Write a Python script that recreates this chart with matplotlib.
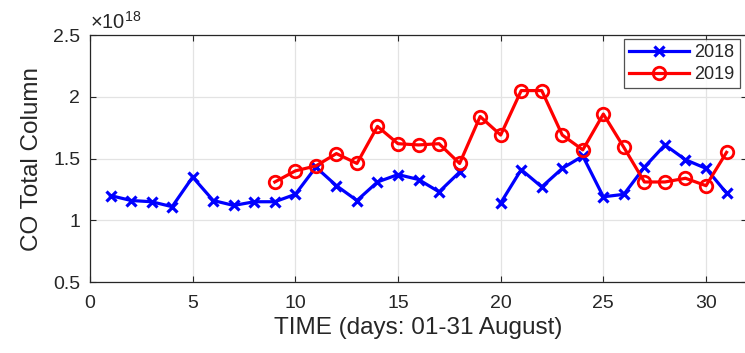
import numpy as np
import matplotlib
matplotlib.use("Agg")
import matplotlib.pyplot as plt
from matplotlib.ticker import FuncFormatter

plt.rcParams["font.family"] = ["Liberation Sans", "DejaVu Sans"]
plt.rcParams["mathtext.fontset"] = "custom"
plt.rcParams["mathtext.rm"] = "Liberation Sans"
plt.rcParams["mathtext.it"] = "Liberation Sans"

# CO total column (molec/cm^2), daily values for August; NaN = no retrieval
days_2018 = np.arange(1, 32)
co_2018 = np.array([1.20, 1.16, 1.15, 1.11, 1.35, 1.16, 1.12, 1.15, 1.15, 1.21,
                    1.43, 1.28, 1.16, 1.31, 1.37, 1.33, 1.23, 1.39, np.nan, 1.14,
                    1.41, 1.27, 1.42, 1.52, 1.19, 1.21, 1.43, 1.61, 1.49, 1.42,
                    1.22]) * 1e18

days_2019 = np.arange(9, 32)
co_2019 = np.array([1.31, 1.40, 1.44, 1.54, 1.46, 1.76, 1.62, 1.61, 1.62, 1.46,
                    1.84, 1.69, 2.05, 2.05, 1.69, 1.57, 1.86, 1.59, 1.31, 1.31,
                    1.34, 1.28, 1.55]) * 1e18

SCALE = 1e18
TEXT = "#262626"

fig = plt.figure(figsize=(7.45, 3.53), dpi=100)
ax = fig.add_axes([0.1208, 0.2011, 0.882, 0.6997])

ax.plot(days_2018, co_2018, color="#0000ff", lw=2.3, marker="x", ms=7,
        mew=2.3, label="2018")
ax.plot(days_2019, co_2019, color="#ff0000", lw=2.3, marker="o", ms=9,
        mfc="none", mew=2.0, label="2019")

ax.set_xlim(0, 32)
ax.set_ylim(0.5 * SCALE, 2.5 * SCALE)
ax.set_xticks([0, 5, 10, 15, 20, 25, 30])
ax.set_yticks(np.arange(0.5, 2.51, 0.5) * SCALE)
# MATLAB-style tick labels with the exponent shown once above the axis
ax.yaxis.set_major_formatter(FuncFormatter(lambda v, _: f"{v / SCALE:g}"))
fig.text(90 / 745, 1 - 29 / 353, r"$\times 10^{18}$", fontsize=14.5,
         color=TEXT, ha="left", va="baseline")

ax.grid(True, color="#e3e3e3", lw=0.9)
ax.set_axisbelow(True)
ax.tick_params(direction="in", top=True, right=True, labelsize=14,
               colors=TEXT, length=4)
ax.tick_params(axis="x", pad=9)
ax.tick_params(axis="y", pad=7)
for s in ax.spines.values():
    s.set_color(TEXT)
    s.set_linewidth(0.9)

ax.set_xlabel("TIME (days: 01-31 August)", fontsize=17.5, color=TEXT, labelpad=4)
ax.set_ylabel("CO Total Column", fontsize=17.5, color=TEXT, labelpad=7)

leg = ax.legend(loc="upper right", bbox_to_anchor=(740 / 745, 1 - 39 / 353),
                bbox_transform=fig.transFigure, fontsize=13, frameon=True,
                fancybox=False, edgecolor=TEXT, handlelength=3.3,
                borderpad=0.3, labelspacing=0.25, handletextpad=0.3,
                borderaxespad=0)
leg.get_frame().set_linewidth(0.9)
for t in leg.get_texts():
    t.set_color(TEXT)

fig.savefig("out.png", dpi=100)
